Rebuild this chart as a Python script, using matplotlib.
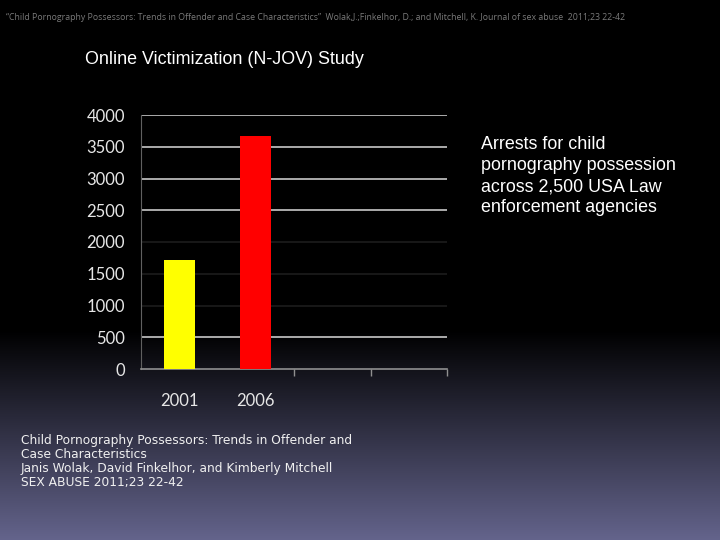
import numpy as np
import matplotlib
matplotlib.use("Agg")
import matplotlib.pyplot as plt

# data
years = ["2001", "2006", "", ""]
arrests = [1713, 3672, 0, 0]
bar_colors = ["#ffff00", "#ff0000", "none", "none"]
yticks = [0, 500, 1000, 1500, 2000, 2500, 3000, 3500, 4000]
# grid lines at 1000-2000 are nearly invisible in the original slide
grid_colors = {500: "#c8c8c8", 1000: "#1c1c1c", 1500: "#1c1c1c", 2000: "#1c1c1c",
               2500: "#c8c8c8", 3000: "#c8c8c8", 3500: "#c8c8c8", 4000: "#c8c8c8"}

fig = plt.figure(figsize=(7.2, 5.4), dpi=100)

# slide background: black fading to slate blue near the bottom
bg = fig.add_axes([0, 0, 1, 1], zorder=-10)
n = 540
grad = np.zeros((n, 1, 3))
top_rgb = np.array([0, 0, 0]) / 255
bot_rgb = np.array([100, 100, 140]) / 255
for i in range(n):
    t = (i - 330) / (n - 330)
    t = min(max(t, 0), 1)
    grad[i, 0] = top_rgb + (bot_rgb - top_rgb) * t
bg.imshow(grad, aspect="auto", extent=[0, 1, 0, 1], origin="upper")
bg.axis("off")

# chart
ax = fig.add_axes([141 / 720, 1 - 369 / 540, 306 / 720, 254 / 540])
ax.set_facecolor("none")
x = np.arange(len(years))
ax.bar(x, arrests, width=0.4, color=bar_colors, zorder=3)
for v in yticks[1:]:
    ax.axhline(v, color=grid_colors[v], lw=1.2, zorder=1)
ax.set_xlim(-0.5, 3.5)
ax.set_ylim(0, 4000)
ax.set_yticks(yticks)
ax.set_yticklabels([str(v) for v in yticks], color="#e6e6e6", fontsize=12, family="Lato")
ax.set_xticks(x)
ax.set_xticklabels(years, color="#e6e6e6", fontsize=12, family="Lato")
ax.tick_params(axis="x", length=0, pad=17)
ax.tick_params(axis="y", length=0, pad=11.5)
ax.set_xticks([1.5, 2.5, 3.5], minor=True)
ax.tick_params(axis="x", which="minor", length=5, color="#909090", width=1)
for s in ["top", "right"]:
    ax.spines[s].set_visible(False)
ax.spines["left"].set_color("#606060")
ax.spines["bottom"].set_color("#909090")
ax.spines["bottom"].set_linewidth(1.2)

# texts
fig.text(6 / 720, 1 - 18 / 540,
         "\u201cChild Pornography Possessors: Trends in Offender and Case Characteristics\u201d  "
         "Wolak,J.;Finkelhor, D.; and Mitchell, K. Journal of sex abuse  2011;23 22-42",
         color="#7a7a7a", fontsize=6.3, va="center", ha="left", family="Open Sans")
fig.text(85 / 720, 1 - 60 / 540, "Online Victimization (N-JOV) Study",
         color="white", fontsize=12.9, va="center", ha="left", family="Liberation Sans")
fig.text(481 / 720, 1 - 136 / 540,
         "Arrests for child\npornography possession\nacross 2,500 USA Law\nenforcement agencies",
         color="white", fontsize=12.9, va="top", ha="left", family="Liberation Sans",
         linespacing=1.32)
fig.text(21 / 720, 1 - 434 / 540,
         "Child Pornography Possessors: Trends in Offender and\nCase Characteristics\n"
         "Janis Wolak, David Finkelhor, and Kimberly Mitchell\nSEX ABUSE 2011;23 22-42",
         color="#f0f0f0", fontsize=8.8, va="top", ha="left", family="DejaVu Sans",
         linespacing=1.1)

fig.savefig("out.png", dpi=100)
